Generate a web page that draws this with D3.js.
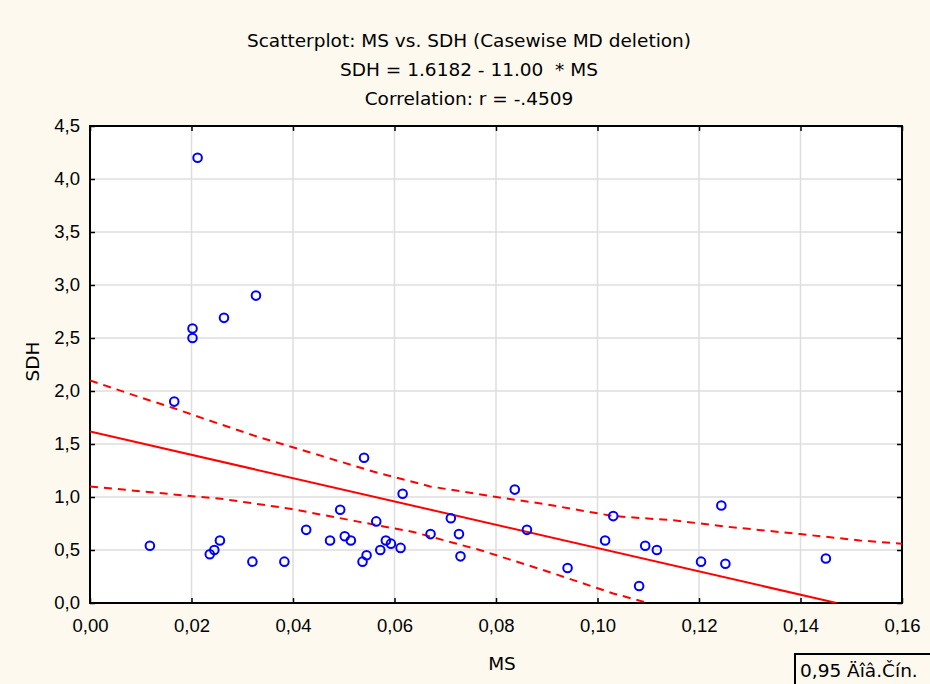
<!DOCTYPE html>
<html>
<head>
<meta charset="utf-8">
<script src="https://cdn.jsdelivr.net/npm/d3@7"></script>
<style>
  html, body { margin: 0; padding: 0; background: #fdf9ef; }
  svg { display: block; font-family: "DejaVu Sans", Verdana, sans-serif; }
  .title { white-space: pre; }
</style>
</head>
<body>
<div id="chart"></div>
<script>
// scatter values
const msValues = [0.0118, 0.0166, 0.0202, 0.0202, 0.0212, 0.0236, 0.0245, 0.0256, 0.0264, 0.0320,
    0.0327, 0.0383, 0.0426, 0.0473, 0.0493, 0.0502, 0.0514, 0.0537, 0.0540, 0.0545,
    0.0564, 0.0572, 0.0583, 0.0593, 0.0612, 0.0616, 0.0671, 0.0711, 0.0727, 0.0730,
    0.0837, 0.0861, 0.0941, 0.1015, 0.1031, 0.1082, 0.1094, 0.1117, 0.1204, 0.1244,
    0.1252, 0.1450];
const sdhValues = [0.54, 1.90, 2.59, 2.50, 4.20, 0.46, 0.50, 0.59, 2.69, 0.39,
    2.90, 0.39, 0.69, 0.59, 0.88, 0.63, 0.59, 0.39, 1.37, 0.45,
    0.77, 0.50, 0.59, 0.56, 0.52, 1.03, 0.65, 0.80, 0.65, 0.44,
    1.07, 0.69, 0.33, 0.59, 0.82, 0.16, 0.54, 0.50, 0.39, 0.92,
    0.37, 0.42];

// regression line: SDH = 1.6182 - 11.00 * MS
const fitMs = [0, 0.1471];
const fitSdh = [1.6182, 0];

// 0.95 confidence bands (dashed)
const upperMs = [0, 0.0099, 0.0164, 0.0230, 0.0329, 0.0427, 0.0558, 0.0670, 0.0801, 0.0900, 0.1031, 0.1150, 0.1255, 0.1400, 0.1517, 0.1600];
const upperSdh = [2.10, 1.94, 1.84, 1.73, 1.57, 1.43, 1.24, 1.10, 1.00, 0.93, 0.82, 0.78, 0.72, 0.65, 0.59, 0.56];
const lowerMs = [0, 0.0065, 0.0131, 0.0263, 0.0394, 0.0526, 0.0637, 0.0768, 0.0900, 0.1031, 0.1100];
const lowerSdh = [1.10, 1.07, 1.04, 0.98, 0.89, 0.77, 0.67, 0.50, 0.30, 0.09, 0.0];

const xTicks = [0, 0.02, 0.04, 0.06, 0.08, 0.10, 0.12, 0.14, 0.16];
const yTicks = [0, 0.5, 1.0, 1.5, 2.0, 2.5, 3.0, 3.5, 4.0, 4.5];

const titleLines = [
    "Scatterplot: MS vs. SDH (Casewise MD deletion)",
    "SDH = 1.6182 - 11.00  * MS",
    "Correlation: r = -.4509"
];

const width = 930, height = 684;
const plotLeft = 90, plotRight = 902, plotTop = 126, plotBottom = 603;
const fontSize = "18.5px";

const svg = d3.select("#chart").append("svg")
    .attr("width", width)
    .attr("height", height);

svg.append("rect").attr("width", width).attr("height", height).attr("fill", "#fdf9ef");

const x = d3.scaleLinear().domain([0, 0.16]).range([plotLeft, plotRight]);
const y = d3.scaleLinear().domain([0, 4.5]).range([plotBottom, plotTop]);

const commaFmt = f => v => d3.format(f)(v).replace(".", ",");

// plot area
svg.append("rect")
    .attr("x", plotLeft).attr("y", plotTop)
    .attr("width", plotRight - plotLeft).attr("height", plotBottom - plotTop)
    .attr("fill", "#fff");

svg.append("clipPath").attr("id", "clip")
    .append("rect")
    .attr("x", plotLeft).attr("y", plotTop)
    .attr("width", plotRight - plotLeft).attr("height", plotBottom - plotTop);

// grid
svg.append("g").selectAll("line")
    .data(xTicks.slice(1, -1))
    .join("line")
    .attr("x1", d => x(d)).attr("x2", d => x(d))
    .attr("y1", plotTop).attr("y2", plotBottom)
    .attr("stroke", "#dedede").attr("stroke-width", 1.5);

svg.append("g").selectAll("line")
    .data(yTicks.slice(1, -1))
    .join("line")
    .attr("x1", plotLeft).attr("x2", plotRight)
    .attr("y1", d => y(d)).attr("y2", d => y(d))
    .attr("stroke", "#dedede").attr("stroke-width", 1.5);

// axes with inward ticks
const styleAxis = g => {
    g.select(".domain").remove();
    g.selectAll(".tick line").attr("stroke", "#000").attr("stroke-width", 1.5);
    g.selectAll(".tick text").attr("fill", "#000").style("font-size", fontSize);
};

svg.append("g")
    .attr("transform", `translate(0,${plotBottom})`)
    .call(d3.axisBottom(x).tickValues(xTicks).tickFormat(commaFmt(".2f")).tickSizeInner(-5).tickSizeOuter(0).tickPadding(16))
    .call(styleAxis);

svg.append("g")
    .attr("transform", `translate(${plotLeft},0)`)
    .call(d3.axisLeft(y).tickValues(yTicks).tickFormat(commaFmt(".1f")).tickSizeInner(-5).tickSizeOuter(0).tickPadding(10))
    .call(styleAxis);

svg.append("g")
    .attr("transform", `translate(0,${plotTop})`)
    .call(d3.axisTop(x).tickValues(xTicks).tickFormat("").tickSizeInner(-5).tickSizeOuter(0))
    .call(styleAxis);

svg.append("g")
    .attr("transform", `translate(${plotRight},0)`)
    .call(d3.axisRight(y).tickValues(yTicks).tickFormat("").tickSizeInner(-5).tickSizeOuter(0))
    .call(styleAxis);

// frame
svg.append("rect")
    .attr("x", plotLeft).attr("y", plotTop)
    .attr("width", plotRight - plotLeft).attr("height", plotBottom - plotTop)
    .attr("fill", "none").attr("stroke", "#000").attr("stroke-width", 2);

// lines
const line = d3.line().x(d => x(d[0])).y(d => y(d[1]));
const lines = svg.append("g").attr("clip-path", "url(#clip)");

lines.append("path")
    .attr("d", line(d3.zip(upperMs, upperSdh)))
    .attr("fill", "none").attr("stroke", "#ff0000").attr("stroke-width", 2)
    .attr("stroke-dasharray", "8,6");

lines.append("path")
    .attr("d", line(d3.zip(lowerMs, lowerSdh)))
    .attr("fill", "none").attr("stroke", "#ff0000").attr("stroke-width", 2)
    .attr("stroke-dasharray", "8,6");

lines.append("path")
    .attr("d", line(d3.zip(fitMs, fitSdh)))
    .attr("fill", "none").attr("stroke", "#ff0000").attr("stroke-width", 2);

// points
svg.append("g").selectAll("circle")
    .data(d3.zip(msValues, sdhValues))
    .join("circle")
    .attr("cx", d => x(d[0]))
    .attr("cy", d => y(d[1]))
    .attr("r", 4.3)
    .attr("fill", "none")
    .attr("stroke", "#0000ff")
    .attr("stroke-width", 2);

// titles
svg.append("g").selectAll("text")
    .data(titleLines)
    .join("text")
    .attr("class", "title")
    .attr("x", 469)
    .attr("y", (d, i) => 47 + i * 29)
    .attr("text-anchor", "middle")
    .style("font-size", fontSize)
    .text(d => d);

svg.append("text")
    .attr("x", 502).attr("y", 670)
    .attr("text-anchor", "middle")
    .style("font-size", fontSize)
    .text("MS");

svg.append("text")
    .attr("transform", `translate(39,${(plotTop + plotBottom) / 2 - 3}) rotate(-90)`)
    .attr("text-anchor", "middle")
    .style("font-size", fontSize)
    .text("SDH");

// legend box
svg.append("rect")
    .attr("x", 795).attr("y", 654)
    .attr("width", 150).attr("height", 40)
    .attr("fill", "#fdf9ef").attr("stroke", "#000").attr("stroke-width", 2);

svg.append("text")
    .attr("x", 800).attr("y", 677)
    .style("font-size", fontSize)
    .text("0,95 Äîâ.Čín.");
</script>
</body>
</html>
